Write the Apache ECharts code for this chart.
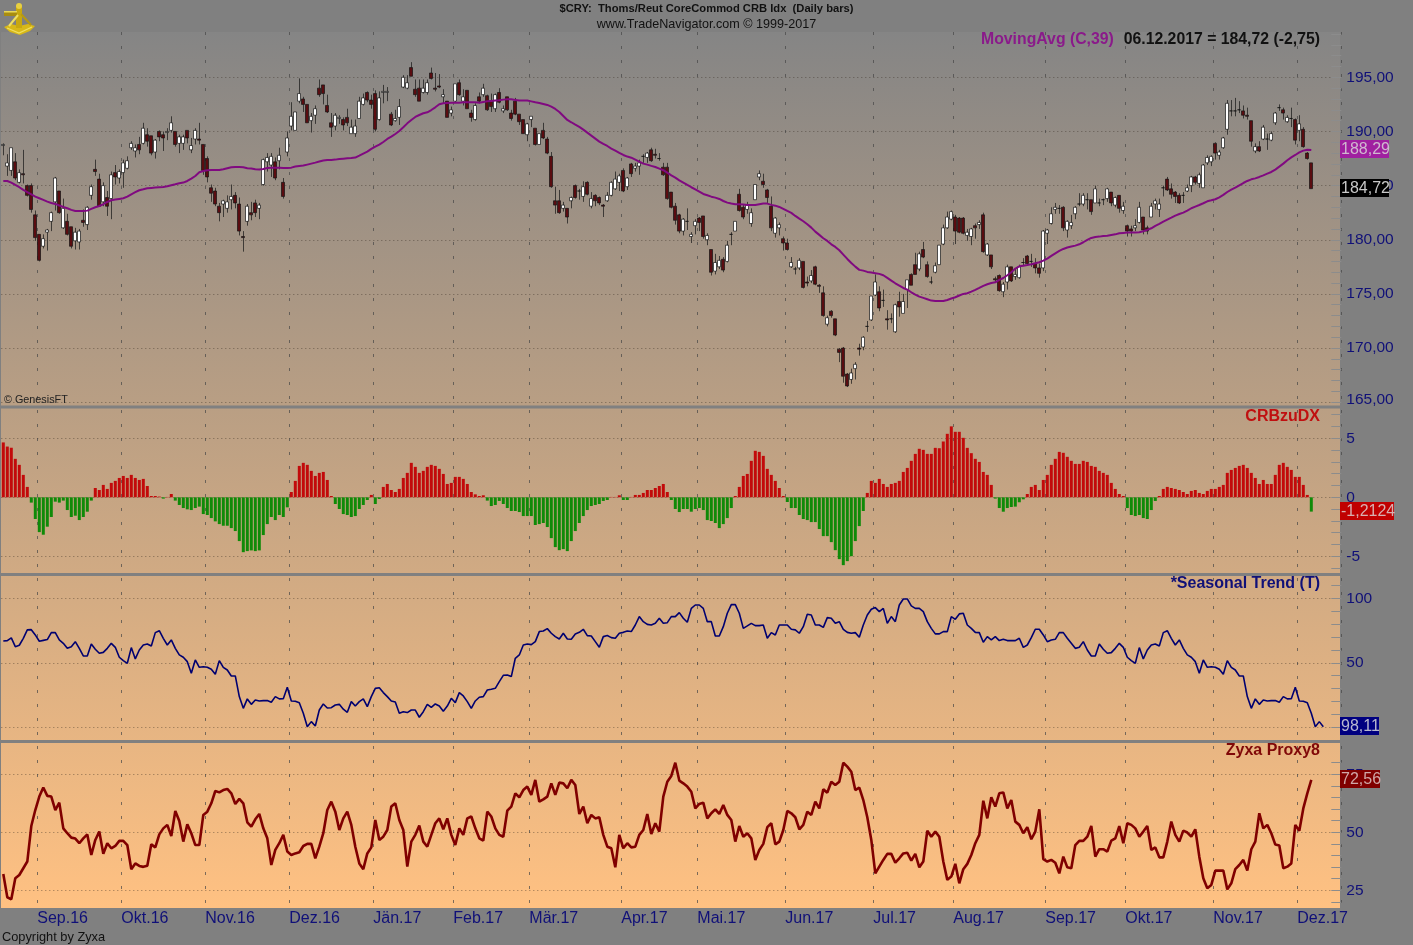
<!DOCTYPE html>
<html>
<head>
<meta charset="utf-8">
<title>$CRY</title>
<script src="https://cdn.jsdelivr.net/npm/echarts@6/dist/echarts.min.js"></script>
<style>
html,body{margin:0;padding:0;background:#808080;}
#main{width:1413px;height:945px;}
</style>
</head>
<body>
<div id="main"></div>
<script>
// month ticks: index of the first bar of each month
var monthLabels = ['Sep.16','Okt.16','Nov.16','Dez.16','Jän.17','Feb.17','Mär.17','Apr.17','Mai.17','Jun.17','Jul.17','Aug.17','Sep.17','Okt.17','Nov.17','Dez.17'];
var monthStarts = [9,30,51,72,93,113,132,155,174,196,218,238,261,281,303,324];

// [open, close, low, high]
var candles = [
[188.7,188.8,187.8,188.9],[186.8,187.1,185.9,187.9],[186.4,188.5,185.9,188.5],[187.2,185.7,185.5,188.0],[185.3,186.2,185.2,186.5],
[186.1,186.0,185.2,188.3],[185.0,184.1,184.0,185.1],[185.0,182.8,182.5,185.2],[182.3,180.2,179.9,182.7],[180.5,178.1,178.0,180.5],
[179.4,180.1,179.2,180.5],[180.7,180.9,179.0,181.0],[181.7,182.5,180.8,182.6],[183.5,185.7,182.7,185.8],[184.5,182.5,182.4,184.5],
[181.1,182.9,181.0,183.8],[181.7,180.5,180.4,182.4],[181.2,179.4,179.2,181.2],[179.9,180.7,179.1,181.1],[179.8,180.8,179.1,181.0],
[181.8,181.6,181.2,182.8],[181.4,183.0,180.9,183.1],[184.1,184.9,183.7,185.1],[186.5,186.3,185.9,187.4],[185.6,183.1,183.1,186.1],
[183.5,185.0,183.1,185.3],[183.9,183.1,182.2,184.5],[183.8,186.0,181.9,186.3],[186.2,185.8,185.1,186.9],[185.7,186.3,185.2,186.5],
[186.2,187.1,184.8,187.4],[186.6,187.3,186.5,187.7],[188.5,188.9,188.3,189.1],[188.2,188.5,187.6,188.8],[188.8,188.3,187.9,189.5],
[188.9,190.3,188.8,190.8],[189.7,189.1,188.6,190.3],[189.6,188.0,187.8,189.6],[188.1,189.2,187.5,189.3],[190.0,189.5,189.1,190.1],
[189.7,189.4,188.2,190.0],[189.9,190.0,189.2,190.3],[190.1,190.8,189.9,191.4],[190.0,188.8,188.6,190.0],[188.9,189.5,188.0,189.7],
[188.9,189.5,188.3,189.7],[190.1,189.4,188.9,190.1],[188.3,188.7,188.0,189.4],[189.3,190.1,188.8,190.3],[189.3,189.2,188.8,190.8],
[188.8,186.4,186.0,188.8],[187.5,185.8,185.3,187.7],[184.8,184.3,183.5,185.1],[184.5,183.3,183.1,184.8],[183.1,182.5,181.7,183.4],
[183.3,183.6,182.1,183.7],[182.9,183.5,182.5,184.1],[183.7,184.0,182.8,185.1],[184.1,183.4,182.9,184.4],[183.3,180.8,180.4,183.9],
[180.3,180.2,178.9,180.8],[181.7,183.1,181.3,183.3],[182.5,182.3,181.8,183.5],[183.4,182.5,182.1,183.7],[182.9,183.2,181.9,183.4],
[185.1,187.4,185.0,187.5],[187.2,187.6,186.3,188.0],[186.9,187.7,185.8,188.0],[187.2,185.7,185.5,187.6],[187.3,187.8,186.5,188.5],
[185.3,184.0,183.8,185.7],[188.1,189.4,187.7,190.0],[190.5,191.4,190.1,192.7],[190.1,191.8,190.1,191.8],[192.8,193.5,192.6,194.9],
[193.0,192.5,191.8,193.2],[192.5,190.8,190.8,192.5],[191.0,191.4,189.9,191.7],[191.5,192.1,190.7,192.4],[194.0,193.4,193.2,194.8],
[194.3,193.5,192.5,194.3],[192.4,191.8,191.7,193.4],[190.8,190.4,189.5,191.7],[190.5,191.5,190.1,191.7],[191.2,191.3,190.7,191.5],
[191.1,190.6,190.1,191.3],[191.3,190.8,190.5,192.1],[189.8,190.4,189.8,191.1],[189.8,190.5,189.5,191.1],[191.2,192.8,191.2,193.2],
[192.5,193.1,192.4,193.5],[193.6,192.9,192.7,193.7],[192.9,192.5,192.1,193.4],[193.5,190.2,190.0,193.8],[191.1,193.1,191.0,193.7],
[193.6,193.7,192.6,194.3],[193.6,193.7,192.8,194.1],[191.6,190.6,190.5,191.8],[191.0,191.2,190.9,192.0],[191.3,192.3,190.6,193.0],
[194.1,195.0,194.0,195.2],[194.0,194.5,193.9,195.2],[195.9,195.1,195.1,196.4],[193.9,193.4,193.2,194.8],[194.0,192.8,192.8,194.8],
[193.6,194.0,193.5,194.8],[193.6,194.5,193.4,194.8],[195.4,194.9,194.8,195.9],[194.0,193.9,193.7,195.4],[194.2,194.1,194.0,195.3],
[193.2,193.4,192.6,193.9],[192.8,191.3,191.3,192.8],[191.7,192.0,191.4,192.3],[192.8,194.4,192.7,194.4],[194.5,193.4,193.3,194.8],
[192.8,193.2,192.4,193.9],[193.8,192.1,192.1,193.8],[191.7,191.3,190.9,192.0],[191.1,192.4,191.0,192.6],[193.2,192.8,192.6,193.6],
[193.4,194.0,193.2,194.4],[193.3,192.0,191.9,193.4],[192.8,192.3,191.8,193.5],[192.1,193.4,191.8,193.5],[193.6,192.7,192.6,194.0],
[191.9,192.1,191.7,192.4],[193.2,192.0,191.9,193.2],[191.7,191.2,191.0,192.0],[192.8,191.6,191.5,193.1],[191.6,190.9,190.6,191.6],
[191.1,189.8,189.8,191.1],[189.7,190.7,189.1,190.8],[191.1,191.4,190.4,191.4],[190.3,188.8,188.7,190.3],[188.8,189.8,188.8,189.8],
[190.1,189.4,189.3,190.8],[189.3,188.0,187.9,189.5],[187.7,184.9,184.8,188.1],[183.6,183.2,182.4,184.9],[183.6,182.5,182.4,184.6],
[182.9,183.2,182.6,183.5],[182.9,182.1,181.5,182.9],[183.6,183.9,182.9,184.0],[185.0,183.9,183.8,185.1],[184.5,184.5,183.7,184.7],
[184.0,184.9,183.5,185.4],[185.3,184.2,184.1,185.4],[183.1,183.8,182.9,184.4],[184.1,183.6,183.1,184.2],[183.9,183.4,183.2,184.0],
[183.2,183.1,182.1,183.3],[183.6,184.1,183.5,184.4],[184.1,185.3,184.0,185.4],[184.7,185.6,184.6,186.3],[185.3,185.9,184.5,186.1],
[186.4,184.5,184.4,186.6],[184.9,185.7,184.6,185.8],[187.0,186.1,185.8,187.1],[186.6,186.8,186.3,187.1],[186.8,187.1,186.0,187.4],
[187.7,187.7,187.1,187.9],[187.6,188.0,187.1,188.1],[188.3,187.3,187.2,188.5],[187.9,187.8,187.5,188.4],[187.5,187.5,187.3,188.0],
[186.7,186.0,185.9,187.1],[186.7,183.8,183.7,187.1],[184.4,183.0,182.9,184.4],[183.1,181.8,181.4,183.4],[182.3,180.8,180.6,182.4],
[180.8,181.9,180.4,182.0],[181.7,181.7,180.9,182.9],[180.3,180.5,179.7,180.7],[181.3,181.7,180.5,181.9],[182.0,181.6,180.8,182.1],
[182.2,180.3,180.1,182.2],[180.0,180.4,179.5,180.6],[179.1,177.0,176.7,179.1],[177.1,177.9,176.8,178.7],[177.5,178.1,177.3,178.5],
[178.2,177.2,177.0,178.4],[178.0,179.5,177.9,179.9],[180.5,180.5,179.5,180.7],[180.8,181.7,180.8,181.7],[184.2,182.7,182.6,184.7],
[183.0,182.1,181.9,183.3],[182.8,183.2,182.4,183.5],[181.5,182.5,181.2,182.9],[183.7,185.1,183.7,185.1],[185.8,186.1,185.5,186.4],
[185.4,185.1,184.8,186.1],[184.6,183.9,183.4,184.7],[183.1,181.1,180.8,184.0],[180.6,182.0,180.2,182.1],[181.1,181.4,180.4,181.6],
[180.1,179.7,179.0,180.3],[179.7,179.1,179.0,180.1],[177.5,177.9,177.4,178.4],[177.3,177.3,176.8,177.5],[177.4,178.1,177.2,178.3],
[178.0,175.6,175.5,178.0],[176.1,176.0,175.7,176.6],[176.2,176.7,176.0,177.2],[177.5,175.9,175.8,177.6],[175.8,175.7,175.1,175.9],
[175.1,173.0,172.9,175.7],[172.2,172.8,172.0,173.0],[173.4,173.0,172.8,173.5],[172.7,171.2,171.1,172.7],[169.9,169.6,168.7,170.0],
[170.0,167.4,166.8,170.1],[167.6,166.5,166.4,167.7],[167.1,167.7,166.7,168.1],[168.1,168.5,167.1,168.7],[170.0,169.9,169.3,170.4],
[170.1,171.0,169.8,171.1],[172.0,172.0,171.5,172.5],[172.6,174.8,172.5,174.8],[174.9,176.1,174.8,176.8],[175.2,173.7,173.4,175.7],
[174.4,174.4,173.8,175.4],[172.7,172.6,171.7,173.5],[172.7,172.7,172.3,173.2],[171.5,174.0,171.4,174.1],[174.3,173.8,172.9,175.2],
[173.2,174.3,173.2,175.0],[175.4,176.3,173.7,176.3],[176.8,175.8,175.8,176.9],[177.7,176.8,176.8,178.8],[177.3,178.7,177.1,178.9],
[179.1,178.4,178.3,179.8],[177.7,176.6,176.5,178.0],[176.1,176.1,175.9,176.6],[177.0,177.6,176.9,177.9],[177.7,179.5,177.7,179.5],
[179.6,181.1,179.5,181.4],[181.1,182.1,181.0,182.6],[181.9,182.6,181.8,182.7],[182.1,180.8,179.6,182.3],[182.0,180.7,180.6,182.1],
[182.0,180.6,180.5,182.1],[180.4,180.7,179.9,181.0],[180.3,181.0,179.5,181.1],[181.3,181.1,180.1,181.5],[181.4,181.6,181.0,181.8],
[182.3,178.9,178.8,182.5],[178.6,179.6,178.5,179.7],[178.6,177.5,177.3,178.6],[176.4,176.3,176.1,176.6],[176.7,175.3,175.2,176.8],
[175.2,175.9,174.7,176.1],[176.1,177.5,175.4,177.7],[177.5,176.2,176.1,177.5],[176.6,176.8,176.3,177.3],[176.5,177.5,176.4,177.7],
[177.9,177.9,177.6,178.3],[178.5,177.8,177.7,178.6],[178.0,178.0,177.5,178.7],[177.8,177.4,176.9,178.3],[177.4,176.9,176.5,177.8],
[177.4,180.8,177.1,180.9],[180.6,180.9,179.6,181.0],[181.5,182.4,181.4,183.0],[182.8,183.0,182.4,183.4],[182.9,182.9,182.4,183.2],
[183.0,181.1,180.8,183.1],[180.9,181.7,180.2,181.8],[181.3,181.6,181.0,182.3],[182.4,183.0,181.9,183.1],[183.3,183.3,183.1,184.3],
[183.3,184.1,183.1,184.3],[183.7,183.7,182.8,184.3],[183.7,182.6,182.3,183.7],[183.4,184.7,183.4,185.0],[183.4,183.4,183.1,183.8],
[183.7,183.7,183.2,183.8],[183.8,184.7,183.5,184.8],[184.4,183.4,183.1,184.4],[183.2,183.9,183.0,184.0],[184.1,182.9,182.5,184.1],
[182.7,183.1,182.4,183.5],[181.3,180.8,180.3,181.4],[181.0,180.8,180.3,181.3],[181.1,181.3,180.8,181.9],[181.6,183.0,181.5,183.5],
[182.1,180.9,180.5,182.1],[181.1,180.8,180.5,181.3],[182.1,183.1,182.1,183.4],[183.3,183.6,182.8,183.8],[182.8,183.3,182.1,183.8],
[184.8,184.8,184.0,185.0],[185.6,184.6,184.5,185.8],[184.7,184.2,183.8,185.2],[184.4,184.0,183.4,184.5],[184.1,183.4,183.3,184.3],
[184.1,184.1,183.4,184.4],[184.5,184.8,184.4,185.1],[185.0,185.8,184.4,185.9],[185.8,185.3,185.1,185.9],[185.2,186.0,184.8,186.2],
[184.8,186.9,184.8,187.0],[187.1,187.6,186.9,187.8],[187.2,187.7,186.8,187.8],[188.9,188.0,187.4,189.0],[187.8,188.1,187.4,188.3],
[188.5,189.4,188.4,189.5],[190.2,192.6,189.7,192.9],[191.9,191.9,191.4,192.9],[191.9,191.9,191.4,193.1],[192.0,192.0,191.7,192.8],
[191.9,191.5,191.2,192.4],[191.5,191.4,191.1,192.2],[191.0,189.1,188.6,191.0],[188.2,188.6,188.0,188.9],[188.6,188.2,188.1,189.1],
[189.3,190.4,189.2,190.6],[189.3,189.3,188.3,189.8],[189.2,189.8,189.1,190.0],[190.8,191.7,190.6,191.8],[192.2,192.2,191.9,192.5],
[192.0,191.7,191.1,192.2],[190.9,191.3,190.8,191.5],[191.2,191.2,190.4,192.2],[191.1,189.2,188.8,191.2],[190.1,190.7,189.1,191.5],
[190.2,188.6,188.5,190.4],[188.0,187.5,187.4,188.1],[187.1,184.72,184.72,187.1]
];

// MovingAvg (C,39)
var movingAvg = [
185.43,185.43,185.28,185.06,184.85,184.6,184.39,184.2,183.98,183.83,
183.68,183.52,183.4,183.31,183.16,183.03,182.91,182.76,182.66,182.66,
182.66,182.69,182.85,183.0,183.12,183.28,183.49,183.65,183.71,183.77,
183.83,183.98,184.2,184.39,184.57,184.66,184.76,184.79,184.82,184.85,
184.88,184.94,185.03,185.12,185.22,185.28,185.43,185.65,185.89,186.23,
186.35,186.42,186.45,186.45,186.45,186.51,186.6,186.69,186.72,186.72,
186.69,186.6,186.57,186.51,186.48,186.54,186.63,186.66,186.66,186.66,
186.63,186.63,186.66,186.76,186.82,186.85,186.94,187.03,187.12,187.22,
187.31,187.37,187.37,187.4,187.46,187.49,187.52,187.55,187.59,187.77,
187.96,188.14,188.39,188.6,188.79,189.03,189.31,189.52,189.77,190.05,
190.39,190.75,191.06,191.34,191.52,191.68,191.77,191.98,192.23,192.51,
192.6,192.63,192.66,192.66,192.66,192.69,192.69,192.69,192.69,192.66,
192.72,192.78,192.82,192.85,192.88,192.94,192.97,192.97,192.91,192.85,
192.85,192.85,192.78,192.69,192.63,192.54,192.45,192.29,192.08,191.8,
191.43,191.06,190.85,190.63,190.42,190.17,189.89,189.62,189.34,189.06,
188.85,188.66,188.42,188.23,188.02,187.83,187.68,187.58,187.4,187.22,
187.03,186.94,186.82,186.72,186.57,186.42,186.2,185.95,185.74,185.49,
185.28,185.06,184.85,184.66,184.45,184.23,184.11,183.98,183.89,183.77,
183.58,183.43,183.34,183.28,183.28,183.25,183.22,183.22,183.22,183.28,
183.34,183.34,183.22,183.15,183.03,182.85,182.66,182.48,182.2,181.95,
181.71,181.43,181.12,180.75,180.45,180.14,179.89,179.58,179.34,179.03,
178.63,178.23,177.86,177.52,177.22,177.15,177.03,176.97,176.91,176.85,
176.72,176.48,176.23,175.98,175.77,175.55,175.4,175.15,174.94,174.75,
174.63,174.51,174.38,174.35,174.35,174.35,174.44,174.57,174.69,174.85,
175.0,175.06,175.21,175.37,175.55,175.74,175.89,176.01,176.07,176.29,
176.47,176.72,177.0,177.34,177.55,177.61,177.67,177.74,177.83,177.92,
178.08,178.26,178.51,178.75,178.97,179.15,179.28,179.37,179.46,179.58,
179.77,179.98,180.17,180.26,180.29,180.35,180.38,180.44,180.5,180.6,
180.63,180.66,180.66,180.66,180.69,180.78,180.91,181.06,181.28,181.46,
181.67,181.86,182.04,182.23,182.38,182.51,182.69,182.91,183.06,183.21,
183.37,183.55,183.64,183.74,183.92,184.14,184.41,184.63,184.81,185.03,
185.24,185.43,185.58,185.67,185.8,185.95,186.11,186.26,186.48,186.75,
187.03,187.34,187.61,187.83,188.07,188.23,188.32,188.29
];

// CRBzuDX
var crbZuDx = [
4.65,4.3,4.2,3.26,2.75,1.9,0.88,-0.45,-1.84,-2.95,
-3.17,-2.49,-1.67,-0.37,-0.45,-0.28,-1.08,-1.67,-1.56,-1.93,
-1.67,-1.22,-0.28,0.79,0.62,1.05,0.71,1.22,1.39,1.64,
1.81,1.64,1.9,1.64,1.47,1.56,0.96,0.11,0.11,0.06,
-0.11,0.03,0.28,-0.28,-0.65,-0.91,-1.02,-1.08,-0.91,-0.79,
-1.42,-1.5,-1.76,-2.04,-2.27,-2.41,-2.41,-2.61,-2.86,-3.71,
-4.65,-4.56,-4.5,-4.56,-4.5,-3.2,-2.27,-1.67,-1.93,-1.5,
-1.67,-0.85,0.45,1.39,2.66,2.92,2.75,2.24,1.81,2.07,
2.15,1.47,0.11,-0.57,-0.99,-1.42,-1.5,-1.67,-1.59,-0.99,
-0.65,-0.23,0.2,-0.57,-0.14,0.88,1.13,0.62,0.45,0.71,
1.64,2.07,2.92,2.58,2.07,2.24,2.58,2.75,2.66,2.41,
1.98,1.13,1.22,1.73,1.73,1.56,1.13,0.45,0.25,0.11,
0.17,-0.28,-0.74,-0.65,-0.31,-0.57,-0.91,-1.16,-1.16,-1.25,
-1.59,-1.59,-1.59,-2.35,-2.27,-2.18,-2.52,-3.46,-4.22,-4.48,
-4.39,-4.56,-3.71,-2.86,-2.18,-1.59,-1.08,-0.74,-0.65,-0.57,
-0.31,-0.23,0.03,0.03,0.17,-0.23,-0.23,0.03,0.2,0.2,
0.37,0.62,0.62,0.79,0.96,1.13,0.45,-0.23,-0.99,-1.25,
-0.99,-0.99,-1.22,-0.99,-0.91,-1.08,-1.93,-2.01,-2.18,-2.61,
-2.27,-1.76,-0.91,0.11,0.88,1.81,1.98,3.09,3.94,3.85,
3.51,2.41,1.9,1.39,0.79,0.11,-0.4,-0.91,-0.91,-1.5,
-1.84,-1.93,-2.1,-2.1,-2.69,-3.29,-3.29,-3.8,-4.48,-5.24,
-5.75,-5.41,-4.99,-3.71,-2.44,-1.16,0.37,1.39,1.22,1.56,
1.13,0.88,1.13,1.22,1.39,2.15,2.49,3.09,3.68,4.11,
4.02,3.68,3.68,4.19,4.16,4.73,5.38,6.01,5.55,5.55,
5.04,4.19,3.74,3.26,3.0,2.15,1.9,1.05,-0.11,-0.91,
-1.22,-0.91,-0.82,-0.79,-0.42,-0.17,0.28,0.88,1.05,0.62,
1.47,1.9,2.75,3.26,3.85,3.77,3.43,3.09,2.83,2.83,
3.09,3.0,2.66,2.58,2.24,2.07,1.9,1.22,0.71,0.28,
0.11,-0.91,-1.5,-1.59,-1.5,-1.76,-1.84,-1.08,-0.31,0.11,
0.71,0.88,0.79,0.71,0.62,0.45,0.28,0.54,0.62,0.37,
0.28,0.54,0.71,0.71,0.88,1.05,2.07,2.32,2.49,2.66,
2.75,2.49,2.07,1.64,1.13,1.47,1.13,1.13,1.9,2.75,
2.92,2.58,2.32,1.73,1.73,1.05,0.2,-1.2124
];

// *Seasonal Trend (T), runs a few bars past the last candle
var seasonalTrend = [
66.9,67.2,69.3,62.5,63.6,69.0,75.5,75.7,71.6,66.7,
67.4,68.0,73.4,73.4,67.7,65.1,61.2,62.5,66.4,61.2,
55.3,55.3,64.6,60.5,57.4,58.1,61.2,65.1,62.0,54.3,
51.7,49.6,61.8,53.0,59.9,63.8,64.6,63.0,73.4,74.9,
69.0,63.8,67.7,61.2,56.1,54.3,50.9,41.9,52.2,46.5,
47.0,46.5,45.0,41.1,51.7,46.5,44.4,39.8,39.8,23.8,
14.7,22.0,17.8,21.2,20.4,20.7,20.7,19.4,23.8,22.0,
22.2,31.0,20.4,20.2,19.1,10.9,0.5,4.4,1.0,13.4,
18.1,15.0,15.2,17.3,17.8,14.0,11.6,19.9,16.5,19.9,
22.0,16.0,23.8,30.2,30.7,26.9,23.8,20.4,19.6,10.9,
12.1,11.4,13.4,13.4,7.8,12.1,17.8,15.5,18.1,16.5,
12.4,16.5,22.5,19.1,26.9,24.3,19.9,14.7,20.4,23.3,
23.8,28.9,29.5,30.2,35.4,40.3,40.6,39.3,53.5,56.1,
63.8,64.6,64.1,66.4,74.2,74.7,76.5,72.9,70.3,68.5,
72.9,68.5,68.2,72.4,73.6,76.0,71.1,70.8,66.4,62.0,
70.3,71.1,69.5,69.0,72.9,73.6,74.7,74.2,79.3,85.8,
81.9,79.8,79.3,80.6,84.5,80.6,81.1,85.8,85.8,88.9,
84.5,81.4,92.2,94.8,94.8,
92.2,81.9,81.9,70.8,70.8,78.0,88.4,95.1,95.1,88.4,
76.7,78.6,80.6,78.8,78.8,79.3,69.0,73.4,71.6,79.3,
79.3,79.3,76.0,75.5,72.9,78.0,87.6,87.1,79.3,79.3,
77.5,85.0,84.5,80.6,81.9,76.0,73.6,72.9,73.4,69.8,
79.3,87.1,91.5,92.8,89.7,92.2,80.6,85.8,81.9,94.8,
99.5,99.5,94.1,92.2,92.2,89.7,81.9,76.7,72.4,72.4,
74.2,74.2,85.8,83.7,87.9,88.4,79.3,76.7,73.6,73.4,
65.9,70.3,67.7,70.3,67.2,68.2,67.2,67.2,67.2,69.0,
62.0,63.8,69.5,76.0,76.0,71.6,66.4,67.7,68.2,73.4,
73.4,69.0,65.1,61.2,62.0,66.4,59.9,55.3,55.3,64.6,
60.5,57.4,57.9,61.2,65.1,62.0,54.3,51.7,49.6,61.8,
53.0,59.9,63.8,64.6,63.0,73.4,74.9,69.0,63.8,67.7,
61.2,56.1,54.3,50.9,41.9,52.2,46.5,47.0,46.5,45.0,
41.1,51.7,46.5,44.4,39.8,39.8,23.8,14.7,22.0,17.8,
21.2,20.4,20.7,20.7,19.4,23.8,22.0,22.2,31.0,20.4,
20.2,19.1,10.9,0.5,4.4,0.5
];

// Zyxa Proxy8
var zyxaProxy = [
32.0,22.0,21.1,30.2,31.6,34.5,37.4,52.7,59.6,65.4,
69.3,65.7,65.4,59.6,62.8,51.7,49.6,47.7,47.3,45.3,
47.4,49.1,40.2,46.7,50.3,40.7,45.3,43.1,44.1,46.3,
46.3,44.5,34.1,36.6,35.5,35.1,35.6,44.8,43.5,49.1,
51.7,53.2,48.4,59.2,54.9,46.0,53.4,49.6,44.5,44.5,
57.5,58.9,62.5,67.8,67.2,68.2,68.7,66.8,62.2,64.4,
62.5,54.3,52.4,55.6,57.9,51.7,47.4,35.9,42.4,45.3,
48.9,41.7,40.2,40.9,41.4,44.1,45.0,45.0,38.8,43.8,
49.6,59.6,63.2,58.9,51.0,56.0,58.9,53.2,43.8,36.6,
34.1,40.9,43.5,55.3,46.7,48.1,51.0,61.1,62.5,55.3,
51.0,35.2,46.0,48.9,52.9,46.0,43.8,48.9,53.9,56.0,
51.3,56.0,48.9,44.5,51.7,48.9,56.0,56.8,51.7,47.4,
46.4,58.9,56.8,51.7,48.9,48.1,59.3,61.1,66.8,65.1,
68.2,69.7,66.1,72.6,63.2,64.2,65.4,71.1,66.1,71.4,
71.1,69.0,72.6,70.4,57.9,61.1,53.9,57.5,56.0,56.5,
48.9,43.8,43.1,34.9,48.9,43.1,45.3,43.5,43.8,48.9,
51.0,57.9,49.3,53.9,50.3,65.4,71.8,74.3,80.0,72.3,
71.1,69.7,67.5,60.3,
62.2,62.8,56.0,58.2,59.9,57.9,61.8,57.5,55.3,46.0,
52.7,48.1,49.6,47.4,38.1,42.4,45.0,52.2,53.9,44.8,
46.0,51.0,59.2,58.2,56.5,51.3,53.2,58.9,57.5,63.2,
60.3,68.5,67.1,71.8,70.4,71.8,80.0,78.3,76.1,68.2,
69.3,63.9,56.5,46.7,32.3,35.2,38.1,40.7,40.7,36.9,
38.8,40.9,41.2,37.8,40.7,34.9,37.4,50.7,48.1,50.3,
48.1,37.4,29.5,30.9,36.4,28.0,34.1,36.4,40.2,45.3,
48.9,63.6,56.0,65.1,61.1,66.8,67.2,60.3,63.9,54.6,
53.2,49.6,52.2,47.0,50.3,59.9,38.4,37.4,38.1,36.9,
32.3,39.5,34.9,34.5,44.5,46.3,46.3,48.1,52.7,39.5,
42.7,42.7,41.7,46.4,47.4,52.7,45.3,53.9,53.2,51.7,
48.1,50.3,52.7,42.4,43.5,39.2,39.2,46.0,54.6,48.9,
46.0,50.7,49.9,48.1,51.3,39.5,30.2,25.9,27.3,33.5,
33.5,33.5,25.4,28.0,34.1,35.9,38.1,33.5,42.7,46.0,
58.2,51.7,53.2,49.6,44.7,44.3,34.5,35.2,36.6,53.2,
50.7,60.3,66.8,72.56
];

// 335 slots, the last ones stay empty as in the original
var slots = [];
for (var s = 0; s < 335; s++) { slots.push(s); }

var FONT = '"Liberation Sans", Arial, sans-serif';
var NAVY = '#101078';
var DOT = 'rgba(50,40,30,0.5)';

function txt(x, y, text, font, color, align) {
	return { type: 'text', z: 30, silent: true,
		style: { x: x, y: y, text: text, font: font + ' ' + FONT, fill: color, textAlign: align || 'left', textVerticalAlign: 'middle' } };
}
function box(x, y, w, h, color, z) {
	return { type: 'rect', z: z, silent: true, shape: { x: x, y: y, width: w, height: h }, style: { fill: color } };
}
function tag(y, w, color, text, textColor) {
	return [box(1340, y, w, 18, color, 28), txt(1341, y + 9.5, text, '16px', textColor)];
}
function stroke(points, color, width) {
	return { type: 'polyline', z: 31, silent: true, shape: { points: points }, style: { stroke: color, lineWidth: width, fill: null } };
}

// sextant logo
var logo = [
	{ type: 'polygon', z: 30, silent: true, shape: { points: [[4, 27], [11, 24], [19, 26], [28, 24], [35, 26], [30, 31], [20, 35], [10, 32]] }, style: { fill: '#d8b818' } },
	box(16, 6, 6, 22, '#c8a810', 30),
	box(4, 11, 13, 5, '#a88c10', 30),
	box(4, 11, 13, 1.5, '#e8d858', 31),
	{ type: 'circle', z: 31, silent: true, shape: { cx: 19, cy: 6, r: 3 }, style: { fill: '#e8d040' } },
	stroke([[18, 15], [9, 26]], '#f0e060', 2),
	stroke([[21, 14], [31, 25]], '#b89a10', 2),
	stroke([[7, 28], [19, 33], [32, 27]], '#f0e060', 1.2)
];

var graphics = [
	{ type: 'rect', z: -5, silent: true, shape: { x: 0, y: 32, width: 1340, height: 876 },
		style: { fill: new echarts.graphic.LinearGradient(0, 0, 0, 1, [
			{ offset: 0, color: '#858585' },
			{ offset: 1, color: '#ffc182' }
		]) } },
	// panel separators and left edge
	box(0, 405.5, 1340, 3, '#808080', 5),
	box(0, 573, 1340, 3, '#808080', 5),
	box(0, 740, 1340, 3, '#808080', 5),
	box(0, 32, 1, 876, '#808080', 5),
	txt(706.5, 8.5, '$CRY:  Thoms/Reut CoreCommod CRB Idx  (Daily bars)', 'bold 11.2px', '#111', 'center'),
	txt(706.5, 24.5, 'www.TradeNavigator.com © 1999-2017', '12.6px', '#111', 'center'),
	txt(981, 39.5, 'MovingAvg (C,39)', 'bold 15.8px', '#8a1a8a'),
	txt(1320, 39.5, '06.12.2017 = 184,72 (-2,75)', 'bold 15.8px', '#111', 'right'),
	txt(4, 400, '© GenesisFT', '10.8px', '#222'),
	txt(1320, 416.5, 'CRBzuDX', 'bold 16px', '#c01010', 'right'),
	txt(1320, 583.5, '*Seasonal Trend (T)', 'bold 16px', '#101078', 'right'),
	txt(1320, 750.5, 'Zyxa Proxy8', 'bold 16px', '#800808', 'right'),
	txt(2, 937.5, 'Copyright by Zyxa', '12.8px', '#111')
].concat(
	tag(140, 49, '#a020a0', '188,29', '#d0b8d0'),
	tag(179, 49, '#000000', '184,72', '#c8c8c8'),
	tag(502, 54, '#c00000', '-1,2124', '#d8b0b0'),
	tag(717, 39, '#000080', '98,11', '#b8b8d0'),
	tag(770, 40, '#800000', '72,56', '#d0a8a8'),
	logo
);

function valueAxis(idx, min, max, interval, every, offset, fmt) {
	// one dotted line per major step, ticks on the finer step
	var colors = [];
	for (var c = 0; c < every; c++) { colors.push(c === offset ? DOT : 'rgba(0,0,0,0)'); }
	return {
		type: 'value', gridIndex: idx, position: 'right', min: min, max: max, interval: interval,
		axisLine: { show: false },
		axisTick: { show: true, inside: true, length: 10, lineStyle: { color: '#8c8c8c', width: 1 } },
		splitLine: { show: true, showMinLine: true, showMaxLine: true, lineStyle: { color: colors, type: [1, 3], width: 1 } },
		axisLabel: { color: NAVY, fontFamily: FONT, fontSize: 15.5, margin: 5, formatter: fmt,
			rich: { low: { color: NAVY, fontFamily: FONT, fontSize: 15.5, padding: [0, 0, 4, 0] } } }
	};
}
function bandAxis(idx) {
	return {
		type: 'category', gridIndex: idx, data: slots, boundaryGap: true,
		axisLine: { show: false }, axisTick: { show: false }, axisLabel: { show: false }, splitLine: { show: false }
	};
}

var monthAxis = bandAxis(4);
monthAxis.position = 'bottom';
monthAxis.splitLine = {
	show: true,
	interval: function (i) { return monthStarts.indexOf(i) >= 0; },
	lineStyle: { color: 'rgba(70,70,70,0.7)', type: [3, 11], width: 1 }
};
// the label of a month sits at the end of the band before its first bar
monthAxis.axisLabel = {
	show: true, color: NAVY, fontFamily: FONT, fontSize: 16, align: 'left', margin: 3, padding: [0, 0, 0, 2],
	interval: function (i) { return monthStarts.indexOf(i + 1) >= 0; },
	formatter: function (v, i) { return monthLabels[monthStarts.indexOf(i + 1)]; }
};

var chart = echarts.init(document.getElementById('main'));
var option = {
	animation: false,
	backgroundColor: '#808080',
	graphic: { elements: graphics },
	grid: [
		{ left: 1.3, width: 1340, top: 34, height: 368.2 },
		{ left: 1.3, width: 1340, top: 414.7, height: 153.4 },
		{ left: 1.3, width: 1340, top: 585.4, height: 141.9 },
		{ left: 1.3, width: 1340, top: 762.7, height: 139.2 },
		{ left: 1.3, width: 1340, top: 32, height: 876 }
	],
	xAxis: [bandAxis(0), bandAxis(1), bandAxis(2), bandAxis(3), monthAxis],
	yAxis: [
		valueAxis(0, 165, 199, 1, 5, 0, function (v) {
			if (v % 5 !== 0) { return ''; }
			var t = v.toFixed(2).replace('.', ',');
			return v === 165 ? '{low|' + t + '}' : t;
		}),
		valueAxis(1, -6, 7, 1, 5, 1, function (v) { return v % 5 === 0 ? String(v) : ''; }),
		valueAxis(2, 0, 110, 10, 5, 0, function (v) { return v > 0 && v % 50 === 0 ? String(v) : ''; }),
		valueAxis(3, 20, 80, 5, 5, 1, function (v) { return v % 25 === 0 ? String(v) : ''; }),
		{ type: 'value', gridIndex: 4, show: false, min: 0, max: 1, splitLine: { show: false } }
	],
	series: [
		{
			name: '$CRY', type: 'candlestick', xAxisIndex: 0, yAxisIndex: 0, data: candles, barWidth: 3.4,
			itemStyle: { color: '#ffffff', color0: '#5a0c10', borderColor: '#141414', borderColor0: '#141414', borderWidth: 0.7 }
		},
		{
			name: 'MovingAvg (C,39)', type: 'line', xAxisIndex: 0, yAxisIndex: 0, data: movingAvg, showSymbol: false, z: 5,
			lineStyle: { color: '#800a80', width: 2 }
		},
		{
			name: 'CRBzuDX', type: 'bar', xAxisIndex: 1, yAxisIndex: 1, data: crbZuDx, barWidth: 3,
			itemStyle: { color: function (p) { return p.value >= 0 ? '#c20a0a' : '#108a08'; } }
		},
		{
			name: '*Seasonal Trend (T)', type: 'line', xAxisIndex: 2, yAxisIndex: 2, data: seasonalTrend, showSymbol: false,
			lineStyle: { color: '#000070', width: 1.6 }
		},
		{
			name: 'Zyxa Proxy8', type: 'line', xAxisIndex: 3, yAxisIndex: 3, data: zyxaProxy, showSymbol: false,
			lineStyle: { color: '#800000', width: 2.6 }
		}
	]
};
chart.setOption(option);
window.addEventListener('resize', function () {
	chart.resize();
});
</script>
</body>
</html>
